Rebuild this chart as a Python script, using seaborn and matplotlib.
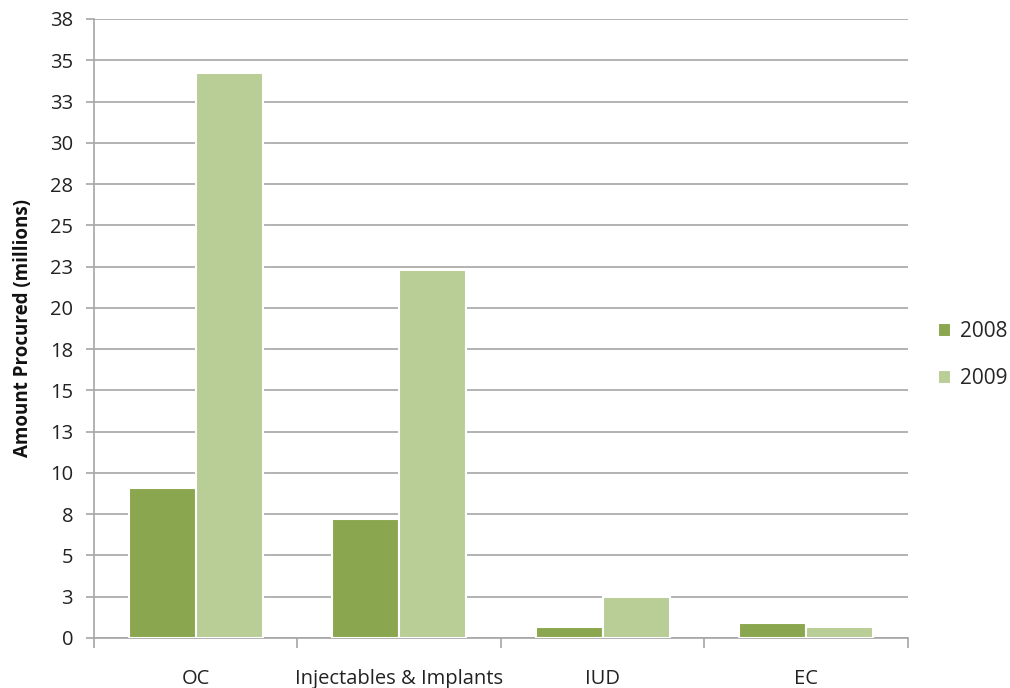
import numpy as np
import pandas as pd
import matplotlib.pyplot as plt
import seaborn as sns
from matplotlib.ticker import FuncFormatter, FixedLocator

categories = ["OC", "Injectables & Implants", "IUD", "EC"]
years = ["2008", "2009"]
values_2008 = [9.07, 7.2, 0.69, 0.91]
values_2009 = [34.2, 22.3, 2.47, 0.67]

df = pd.DataFrame({
    "category": categories * 2,
    "year": [years[0]] * 4 + [years[1]] * 4,
    "amount": values_2008 + values_2009,
})

sns.set_style("white")
plt.rcParams['font.family'] = ['Open Sans', 'DejaVu Sans']

fig = plt.figure(figsize=(10.1, 6.88), dpi=100)
ax = fig.add_axes([0.093, 0.0727, 0.806, 0.8997])

palette = {"2008": "#8aa64e", "2009": "#b9cd96"}
sns.barplot(data=df, x="category", y="amount", hue="year", palette=palette,
            width=0.66, edgecolor="white", linewidth=1.5, ax=ax, zorder=3,
            saturation=1)

ax.set_ylim(0, 37.5)
ax.set_xlim(-0.5, 3.5)
ax.set_yticks(np.arange(0, 37.6, 2.5))
ax.yaxis.set_major_formatter(FuncFormatter(lambda v, p: str(int(np.floor(v + 0.5)))))
ax.yaxis.grid(True, color="#a6a6a6", linewidth=1.2, zorder=0)
ax.set_axisbelow(True)

for s in ["top", "right"]:
    ax.spines[s].set_visible(False)
for s in ["left", "bottom"]:
    ax.spines[s].set_color("#a6a6a6")
    ax.spines[s].set_linewidth(1.2)

ax.tick_params(axis="y", length=6, color="#a6a6a6", width=1.2, labelsize=14.5,
               labelcolor="#222222", left=True, pad=9)
ax.tick_params(axis="x", which="major", length=0, pad=22, labelsize=14.5,
               labelcolor="#222222")
ax.xaxis.set_minor_locator(FixedLocator([-0.5, 0.5, 1.5, 2.5, 3.5]))
ax.tick_params(axis="x", which="minor", length=7, color="#a6a6a6", width=1.2,
               bottom=True, direction="out")

ax.set_xlabel("")
ax.set_ylabel("Amount Procured (millions)", fontsize=13.5, fontweight="bold",
              color="#111111", labelpad=12)

handles, labels = ax.get_legend_handles_labels()
ax.legend(handles, labels, loc="center left", bbox_to_anchor=(0.91, 0.484),
          bbox_transform=fig.transFigure, frameon=False, fontsize=15,
          handlelength=0.65, handleheight=0.65, handletextpad=0.4,
          labelspacing=1.25)

fig.savefig("out.png", dpi=100)
